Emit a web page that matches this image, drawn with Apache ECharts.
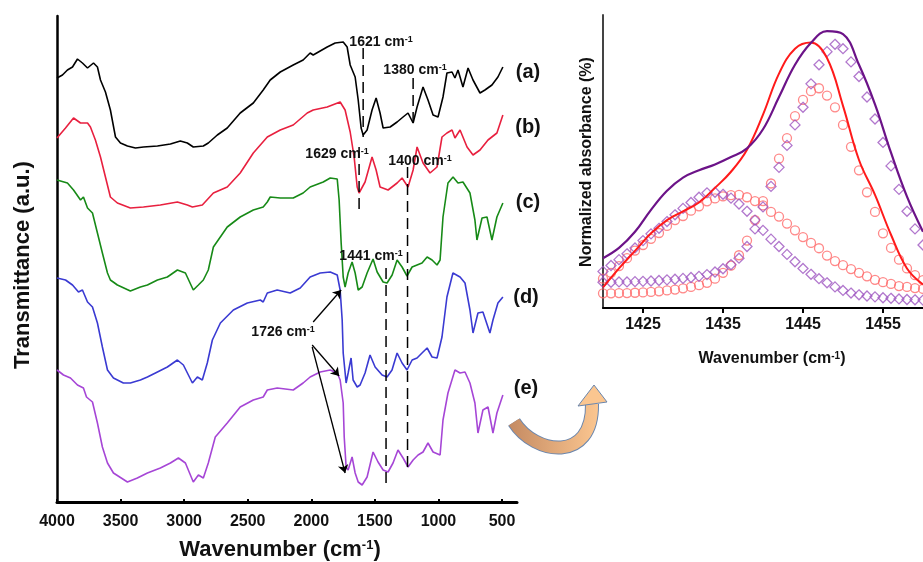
<!DOCTYPE html>
<html>
<head>
<meta charset="utf-8">
<script src="https://cdn.jsdelivr.net/npm/echarts@6.0.0/dist/echarts.min.js"></script>
<style>
  html, body { margin: 0; padding: 0; background: #ffffff; }
  #chart { width: 923px; height: 562px; }
</style>
</head>
<body>
<div id="chart"></div>
<script>
// FTIR spectra, [wavenumber, offset transmittance]
const specA = [[4000,424],[3957,427],[3918,432],[3878,435],[3839,443],[3800,439],[3760,434],[3713,439],[3682,435],[3658,422],[3619,410],[3580,392],[3540,365],[3501,359],[3446,356],[3383,354],[3320,355],[3210,356],[3108,358],[3030,361],[2975,359],[2928,355],[2849,356],[2810,359],[2739,367],[2661,374],[2559,389],[2456,399],[2378,412],[2323,422],[2244,430],[2142,437],[2064,442],[2009,449],[1985,447],[1875,455],[1812,459],[1749,460],[1718,455],[1694,437],[1655,425],[1631,402],[1608,374],[1592,367],[1561,372],[1522,392],[1490,404],[1459,389],[1435,374],[1380,375],[1325,380],[1278,385],[1239,389],[1199,379],[1168,395],[1121,415],[1082,402],[1042,387],[1003,385],[964,405],[933,429],[893,430],[870,424],[846,432],[807,415],[767,434],[728,422],[673,409],[634,412],[579,417],[532,425],[493,435]];
const specB = [[4000,364],[3933,374],[3870,384],[3815,379],[3760,379],[3737,375],[3698,362],[3658,345],[3619,325],[3580,305],[3525,299],[3423,294],[3320,295],[3187,297],[3053,300],[2975,297],[2935,295],[2857,297],[2770,309],[2661,315],[2559,329],[2456,349],[2346,365],[2244,372],[2142,377],[2032,389],[1985,392],[1875,395],[1773,400],[1734,392],[1694,370],[1663,345],[1639,315],[1624,309],[1577,320],[1522,345],[1490,332],[1459,315],[1396,312],[1325,319],[1286,324],[1239,315],[1199,332],[1168,355],[1121,339],[1066,329],[1011,335],[972,365],[933,369],[893,372],[870,364],[830,372],[775,355],[728,347],[673,352],[610,362],[540,369],[493,387]];
const specC = [[4000,322],[3918,319],[3870,312],[3815,302],[3792,305],[3760,294],[3721,289],[3682,269],[3643,249],[3603,229],[3580,222],[3525,217],[3423,211],[3344,215],[3289,217],[3210,222],[3132,225],[3053,232],[2990,229],[2928,212],[2888,217],[2849,222],[2810,232],[2770,255],[2661,275],[2559,285],[2456,292],[2378,295],[2346,300],[2323,305],[2244,304],[2142,304],[2064,309],[2009,315],[1906,320],[1851,324],[1796,323],[1781,302],[1765,259],[1749,225],[1734,215],[1710,229],[1679,240],[1655,229],[1631,212],[1600,215],[1561,229],[1514,243],[1482,230],[1435,220],[1404,219],[1364,227],[1325,242],[1286,235],[1247,226],[1207,235],[1168,237],[1129,239],[1089,245],[1050,242],[1011,237],[987,242],[964,285],[925,319],[885,325],[846,319],[807,320],[752,309],[713,282],[697,262],[657,284],[618,285],[579,262],[540,285],[493,299]];
const specD = [[4000,224],[3933,222],[3878,217],[3831,210],[3800,212],[3760,200],[3721,195],[3682,179],[3643,155],[3603,132],[3556,124],[3478,119],[3423,119],[3344,122],[3289,125],[3210,130],[3132,135],[3053,142],[3006,137],[2935,119],[2896,125],[2857,122],[2818,139],[2778,162],[2715,179],[2613,192],[2503,199],[2401,202],[2378,200],[2346,209],[2268,212],[2166,209],[2087,214],[2009,225],[1930,229],[1851,230],[1796,227],[1773,212],[1757,182],[1749,149],[1726,119],[1710,129],[1687,144],[1671,122],[1639,115],[1616,117],[1577,129],[1538,147],[1498,135],[1443,127],[1404,125],[1365,132],[1325,149],[1286,139],[1247,132],[1207,142],[1168,144],[1129,149],[1089,154],[1050,145],[1011,144],[972,165],[933,205],[886,229],[830,225],[791,219],[752,192],[728,169],[689,189],[650,190],[595,169],[571,182],[532,199],[493,205]];
const specE = [[4000,132],[3949,127],[3894,124],[3839,117],[3792,114],[3768,105],[3721,100],[3682,79],[3643,55],[3603,39],[3556,29],[3446,20],[3368,24],[3289,29],[3187,34],[3108,39],[3045,44],[2990,39],[2928,20],[2888,27],[2849,24],[2810,39],[2755,65],[2661,79],[2559,95],[2456,102],[2378,105],[2346,112],[2268,114],[2142,112],[2064,119],[2009,125],[1930,130],[1851,132],[1796,129],[1773,122],[1749,99],[1741,65],[1726,35],[1710,32],[1679,45],[1655,29],[1631,20],[1600,17],[1561,25],[1514,50],[1475,40],[1435,32],[1396,30],[1357,39],[1318,52],[1278,44],[1239,35],[1199,42],[1160,47],[1121,50],[1082,59],[1042,50],[987,47],[964,82],[925,109],[870,132],[830,129],[791,130],[752,119],[713,99],[689,69],[650,92],[610,95],[571,69],[540,89],[493,107]];

const specNames = ["(a)", "(b)", "(c)", "(d)", "(e)"];
const specColors = ["#000000", "#e8203f", "#178a17", "#3a3ad2", "#a646d6"];
const leftTicks = [4000, 3500, 3000, 2500, 2000, 1500, 1000, 500];

// dashed guide lines (wavenumber, top, bottom)
const dashWn = [1592, 1199, 1624, 1243, 1412];
const dashTop = [454, 424, 355, 335, 234];
const dashBottom = [365, 374, 292, 29, 19];

// 1726 cm-1 arrows
const arrowFrom = [[1985, 180], [1993, 157], [1993, 155]];
const arrowTo = [[1765, 212], [1781, 126], [1734, 29]];

// deconvolution panel
const fitWn = [1420,1421,1422,1423,1424,1425,1426,1427,1428,1429,1430,1431,1432,1433,1434,1435,1436,1437,1438,1439,1440,1441,1442,1443,1444,1445,1446,1447,1448,1449,1450,1451,1452,1453,1454,1455,1456,1457,1458,1459,1460];
const purpleLow = [12.5,14.5,16.5,18.5,20.5,23,25.3,27.2,29.5,31.8,34,36,37.8,39.3,39.5,38.8,37.5,35.5,33,30,26.5,23.5,21,18.3,15.8,13.5,11.5,10,8.6,7.2,6,5.1,4.5,4.1,3.8,3.5,3.3,3.1,2.9,2.8,2.7];
const purpleHigh = [8.8,8.8,8.9,8.9,9,9.1,9.2,9.4,9.6,9.8,10.1,10.4,10.8,11.4,12.3,13.4,14.8,17,21,27,34.5,41.5,48,55.5,62.5,68.5,76.5,83,87.5,90,88.5,84,79,72,64.5,56.5,48.5,40.5,33,27,21.5];
const redLow = [10,12,14.3,17,19.6,21.5,23.6,25.6,28,30,31.4,33.2,34.7,36.4,37.4,38.1,38.5,38.6,37.8,36.5,35,32.8,31.2,28.8,26.5,24.2,22.2,20.4,17.9,16,14.6,13.3,12,10.8,9.6,8.8,8.2,7.5,7.2,6.8,6.5];
const redHigh = [5,5,5.1,5.1,5.2,5.3,5.5,5.7,6,6.3,6.7,7.2,7.8,8.6,10,12,14.5,18,23,30,36.5,42.5,51,58,65.5,71,74,75,72.5,68.5,62.5,55,47,39.5,32.8,25.5,20.5,16.5,13.5,11.2,9.5];
const lineWn = [1420,1422,1424,1426,1428,1430,1432,1434,1436,1438,1440,1442,1444,1446,1448,1450,1452,1454,1456,1458,1460];
const purpleFit = [17,20.5,26,33.5,40,44.5,47,49,51.5,54.5,61,72,83,90.5,94.5,93.5,83,69.5,53,38,26];
const redFit = [7,13.5,19.5,25.5,30,33,36,41,46.5,54,66,80,88.5,90.6,85.3,69,50.5,38.6,25,13.5,8];
const rightTicks = [1425, 1435, 1445, 1455];

const FONT = "'Liberation Sans', Arial, sans-serif";

const chart = echarts.init(document.getElementById("chart"), null, { renderer: "canvas" });

const pair = (xs, ys) => xs.map((x, i) => [x, ys[i]]);

const series = [];
[specA, specB, specC, specD, specE].forEach((data, i) => {
    series.push({
        name: specNames[i],
        type: "line",
        xAxisIndex: 0,
        yAxisIndex: 0,
        data,
        symbol: "none",
        lineStyle: { color: specColors[i], width: 1.6 },
        z: 3,
    });
});

dashWn.forEach((wn, i) => {
    series.push({
        type: "line",
        xAxisIndex: 0,
        yAxisIndex: 0,
        data: [[wn, dashTop[i]], [wn, dashBottom[i]]],
        symbol: "none",
        lineStyle: { color: "#000", width: 1.5, type: [11, 6] },
        z: 4,
    });
});

series.push({
    type: "line",
    xAxisIndex: 0,
    yAxisIndex: 0,
    data: [],
    markLine: {
        silent: true,
        symbol: ["none", "arrow"],
        symbolSize: 8,
        label: { show: false },
        lineStyle: { color: "#000", width: 1.3, type: "solid" },
        data: arrowFrom.map((p, i) => [{ coord: p }, { coord: arrowTo[i] }]),
    },
});

const markerStyle = (symbol, size, color) => ({
    type: "scatter",
    xAxisIndex: 1,
    yAxisIndex: 1,
    symbol,
    symbolSize: size,
    itemStyle: { color: "rgba(255,255,255,0)", borderColor: color, borderWidth: 1.3 },
    z: 2,
});

series.push(Object.assign(markerStyle("circle", 9, "#ff6b6b"), { data: pair(fitWn, redLow) }));
series.push(Object.assign(markerStyle("circle", 9, "#ff6b6b"), { data: pair(fitWn, redHigh) }));
series.push(Object.assign(markerStyle("diamond", 10, "#9d55c0"), { data: pair(fitWn, purpleLow) }));
series.push(Object.assign(markerStyle("diamond", 10, "#9d55c0"), { data: pair(fitWn, purpleHigh) }));

series.push({
    type: "line",
    xAxisIndex: 1,
    yAxisIndex: 1,
    data: pair(lineWn, redFit),
    smooth: 0.4,
    symbol: "none",
    lineStyle: { color: "#ff1a1a", width: 2 },
    z: 3,
});
series.push({
    type: "line",
    xAxisIndex: 1,
    yAxisIndex: 1,
    data: pair(lineWn, purpleFit),
    smooth: 0.4,
    symbol: "none",
    lineStyle: { color: "#6c1388", width: 2.2 },
    z: 3,
});

const bold = (size) => `bold ${size}px ${FONT}`;

function supText(x, y, main, size, supSize, rotation) {
    const tail = main.indexOf("(") >= 0 ? "{m|)}" : "";
    return {
        type: "text",
        x,
        y,
        rotation: rotation || 0,
        style: {
            text: `{m|${main}}{s|-1}` + tail,
            align: "center",
            verticalAlign: "middle",
            rich: {
                m: { font: bold(size), fill: "#111" },
                s: { font: bold(supSize), fill: "#111", verticalAlign: "top" },
            },
        },
        z: 10,
    };
}

function plainText(x, y, text, size, rotation) {
    return {
        type: "text",
        x,
        y,
        rotation: rotation || 0,
        style: { text, font: bold(size), fill: "#111", align: "center", verticalAlign: "middle" },
        z: 10,
    };
}

const labelPos = [[528, 72], [528, 127], [528, 202], [526, 297], [526, 388]];

const graphic = [
    plainText(23, 265, "Transmittance (a.u.)", 22, Math.PI / 2),
    supText(280, 550, "Wavenumber (cm", 22, 13),
    plainText(587, 162, "Normalized absorbance (%)", 16, Math.PI / 2),
    supText(772, 359, "Wavenumber (cm", 16, 10),
    supText(381, 42, "1621 cm", 14, 9),
    supText(415, 70, "1380 cm", 14, 9),
    supText(337, 154, "1629 cm", 14, 9),
    supText(420, 161, "1400 cm", 14, 9),
    supText(371, 256, "1441 cm", 14, 9),
    supText(283, 332, "1726 cm", 14, 9),
    // curved arrow to the zoomed panel
    {
        type: "bezierCurve",
        shape: { x1: 514, y1: 422, cpx1: 535, cpy1: 455, cpx2: 593, cpy2: 463, x2: 592, y2: 404 },
        style: { stroke: "#6a86ad", lineWidth: 14, fill: null },
        z: 1,
    },
    {
        type: "bezierCurve",
        shape: { x1: 514, y1: 422, cpx1: 535, cpy1: 455, cpx2: 593, cpy2: 463, x2: 592, y2: 404 },
        style: {
            stroke: new echarts.graphic.LinearGradient(0, 0, 1, 0, [
                { offset: 0, color: "#c48a62" },
                { offset: 1, color: "#fbc690" },
            ]),
            lineWidth: 12,
            fill: null,
        },
        z: 2,
    },
    {
        type: "polygon",
        shape: { points: [[578, 406], [594, 385], [607, 402]] },
        style: { fill: "#fbc690", stroke: "#6a86ad", lineWidth: 1 },
        z: 3,
    },
].concat(specNames.map((t, i) => plainText(labelPos[i][0], labelPos[i][1], t, 20)));

const plain = (v) => String(v);

const option = {
    animation: false,
    backgroundColor: "#ffffff",
    textStyle: { fontFamily: FONT },
    grid: [
        { left: 57, top: 16, width: 460, height: 486 },
        { left: 603, top: 15, width: 328, height: 293 },
    ],
    xAxis: [
        {
            type: "value",
            gridIndex: 0,
            min: 382,
            max: 4000,
            inverse: true,
            axisLine: { lineStyle: { color: "#000", width: 3 } },
            axisTick: { show: true, inside: true, length: 3, customValues: leftTicks, lineStyle: { color: "#000", width: 2 } },
            axisLabel: { customValues: leftTicks, formatter: plain, color: "#111", fontWeight: "bold", fontSize: 16, margin: 12, fontFamily: FONT },
            splitLine: { show: false },
        },
        {
            type: "value",
            gridIndex: 1,
            min: 1420,
            max: 1460,
            axisLine: { lineStyle: { color: "#000", width: 2 } },
            axisTick: { show: true, length: 5, customValues: rightTicks, lineStyle: { color: "#000", width: 2 } },
            axisLabel: { customValues: rightTicks, formatter: plain, color: "#111", fontWeight: "bold", fontSize: 16, margin: 9, fontFamily: FONT },
            splitLine: { show: false },
        },
    ],
    yAxis: [
        {
            type: "value",
            gridIndex: 0,
            min: 0,
            max: 486,
            axisLine: { show: true, lineStyle: { color: "#000", width: 2.5 } },
            axisTick: { show: false },
            axisLabel: { show: false },
            splitLine: { show: false },
        },
        {
            type: "value",
            gridIndex: 1,
            min: 0,
            max: 100,
            axisLine: { show: true, lineStyle: { color: "#444", width: 2 } },
            axisTick: { show: false },
            axisLabel: { show: false },
            splitLine: { show: false },
        },
    ],
    series,
    graphic,
};

chart.setOption(option);
</script>
</body>
</html>
